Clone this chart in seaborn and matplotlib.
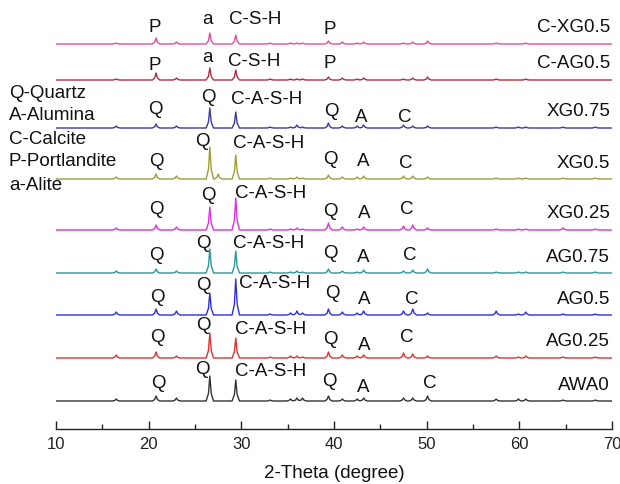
import numpy as np
import matplotlib
matplotlib.use("Agg")
import matplotlib.pyplot as plt
import seaborn as sns

# ---------------- data ----------------
samples = ["C-XG0.5", "C-AG0.5", "XG0.75", "XG0.5", "XG0.25", "AG0.75", "AG0.5", "AG0.25", "AWA0"]
colors = ["#e04f9c", "#a8303e", "#3b3b98", "#9d9d3a", "#e02ee0", "#2f9797", "#2e2ee2", "#e23030", "#333333"]
baselines = [385, 349, 301, 250, 199, 156, 114, 71, 28]

peak_pos = [16.5, 20.8, 23.0, 26.6, 27.5, 29.4, 33.1, 35.3, 36.0, 36.6, 39.4, 40.9,
            42.5, 43.2, 47.5, 48.5, 50.1, 57.5, 59.9, 60.7, 64.7, 68.2]
h_cxg05 = [1, 6, 2, 11, 0, 9, 1, 1, 1, 1, 3, 2, 1, 2, 1, 2, 3, 1, 0, 1, 0, 0]
h_cag05 = [1, 7, 2, 12, 0, 10, 1, 1, 1, 1, 3, 2, 1, 2, 1, 2, 3, 1, 0, 1, 0, 0]
h_xg075 = [2, 4, 2, 20, 0, 16, 1, 1, 3, 1, 5, 2, 2, 3, 3, 2, 2, 1, 1, 1, 1, 1]
h_xg05 = [2, 5, 3, 32, 5, 24, 1, 1, 2, 1, 4, 2, 2, 3, 3, 3, 2, 1, 1, 1, 1, 1]
h_xg025 = [2, 5, 3, 23, 0, 32, 1, 1, 2, 1, 7, 3, 1, 3, 4, 5, 2, 1, 1, 1, 2, 1]
h_ag075 = [2, 4, 2, 24, 0, 22, 1, 1, 2, 1, 4, 2, 1, 3, 2, 3, 4, 1, 1, 1, 1, 1]
h_ag05 = [3, 6, 4, 22, 0, 36, 1, 2, 4, 2, 6, 3, 2, 4, 4, 6, 2, 4, 1, 3, 1, 1]
h_ag025 = [3, 6, 2, 25, 0, 20, 1, 2, 2, 1, 6, 3, 2, 3, 5, 4, 2, 2, 1, 2, 1, 1]
h_awa0 = [2, 5, 3, 25, 0, 21, 1, 2, 3, 3, 5, 2, 2, 3, 3, 3, 5, 2, 2, 2, 1, 1]
heights = [h_cxg05, h_cag05, h_xg075, h_xg05, h_xg025, h_ag075, h_ag05, h_ag025, h_awa0]

# peak labels: (text, 2theta, height above baseline)
lab_cxg05 = [("P", 20.7, 17), ("a", 26.4, 24), ("C-S-H", 31.5, 24), ("P", 39.5, 15)]
lab_cag05 = [("P", 20.7, 15), ("a", 26.4, 23), ("C-S-H", 31.4, 18), ("P", 39.5, 17)]
lab_xg075 = [("Q", 20.7, 18), ("Q", 26.4, 31), ("C-A-S-H", 32.7, 28), ("Q", 39.7, 16), ("A", 42.9, 11), ("C", 47.6, 11)]
lab_xg05 = [("Q", 20.8, 17), ("Q", 25.8, 37), ("C-A-S-H", 32.9, 35), ("Q", 39.6, 20), ("A", 43.2, 18), ("C", 47.7, 16)]
lab_xg025 = [("Q", 20.8, 20), ("Q", 26.4, 35), ("C-A-S-H", 33.2, 36), ("Q", 39.6, 18), ("A", 43.3, 16), ("C", 47.8, 20)]
lab_ag075 = [("Q", 20.8, 18), ("Q", 25.9, 30), ("C-A-S-H", 32.9, 30), ("Q", 39.6, 20), ("A", 43.2, 16), ("C", 48.2, 18)]
lab_ag05 = [("Q", 20.9, 18), ("Q", 25.9, 29), ("C-A-S-H", 33.6, 31), ("Q", 39.8, 22), ("A", 43.3, 15), ("C", 48.4, 16)]
lab_ag025 = [("Q", 20.9, 20), ("Q", 25.9, 32), ("C-A-S-H", 33.2, 28), ("Q", 39.6, 18), ("A", 43.3, 13), ("C", 47.9, 20)]
lab_awa0 = [("Q", 21.0, 17), ("Q", 25.8, 32), ("C-A-S-H", 33.2, 30), ("Q", 39.5, 20), ("A", 43.2, 13), ("C", 50.3, 18)]
labels = [lab_cxg05, lab_cag05, lab_xg075, lab_xg05, lab_xg025, lab_ag075, lab_ag05, lab_ag025, lab_awa0]

legend_lines = ["Q-Quartz", "A-Alumina", "C-Calcite", "P-Portlandite", "a-Alite"]
xticks = [10, 20, 30, 40, 50, 60, 70]

# ---------------- style ----------------
sns.set_theme(style="ticks")
plt.rcParams["font.family"] = ["Liberation Sans", "DejaVu Sans"]

W, H = 620, 484
fig = plt.figure(figsize=(W / 100, H / 100), dpi=100)
ax = fig.add_axes([56 / W, 55 / H, 556 / W, 429 / H])

# peak profile (relative offsets / relative height)
prof_dx = np.array([-0.4, -0.15, 0.0, 0.15, 0.4])
prof_dy = np.array([0.0, 0.3, 1.0, 0.3, 0.0])

grid = sorted(set([10.0, 70.0] + [round(p + d, 3) for p in peak_pos for d in prof_dx]))
grid = np.array(grid)

for name, col, base, hs, labs in zip(samples, colors, baselines, heights, labels):
    y = np.zeros_like(grid)
    for p, h in zip(peak_pos, hs):
        if h > 0:
            y += np.interp(grid, p + prof_dx, h * prof_dy, left=0, right=0)
    sns.lineplot(x=grid, y=base + y, ax=ax, color=col, lw=1.0,
                 estimator=None, sort=False, legend=False)
    for s, xx, dy in labs:
        ax.text(xx, base + dy, s, ha="center", va="center", fontsize=13.5, color="#111111")
    ax.text(69.8, base + 16, name, ha="right", va="center", fontsize=13.5, color="#111111")

for i, s in enumerate(legend_lines):
    fig.text(9 / W, 1 - (93 + 23 * i) / H, s, ha="left", va="center", fontsize=13.5, color="#111111")

ax.set_xlim(10, 70)
ax.set_ylim(0, 429)
ax.set_xticks(xticks)
ax.set_xticks([15, 25, 35, 45, 55, 65], minor=True)
ax.set_yticks([])
for sp in ["left", "top", "right"]:
    ax.spines[sp].set_visible(False)
ax.spines["bottom"].set_linewidth(1.0)
ax.spines["bottom"].set_color("#222222")
ax.tick_params(axis="x", which="major", direction="in", length=6, width=1.0,
               labelsize=12, pad=6, colors="#222222")
ax.tick_params(axis="x", which="minor", direction="in", length=3.5, width=1.0, colors="#222222")
ax.set_xlabel("2-Theta (degree)", fontsize=13.5, color="#111111")
ax.xaxis.label.set_va("center")
ax.xaxis.set_label_coords(0.5, -(473 - 429) / 429)
ax.set_facecolor("white")
fig.patch.set_facecolor("white")

fig.savefig("out.png", dpi=100)
